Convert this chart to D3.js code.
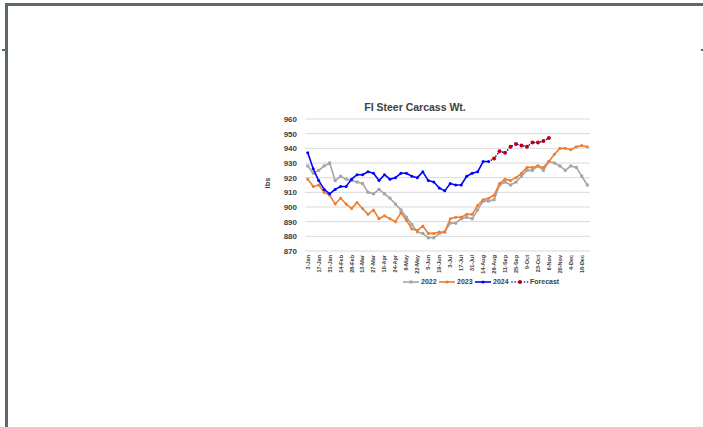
<!DOCTYPE html>
<html><head><meta charset="utf-8">
<script src="https://cdn.jsdelivr.net/npm/d3@7/dist/d3.min.js"></script>
<style>
body{margin:0;background:#fff;overflow:hidden}
svg{display:block}
text{font-family:"Liberation Sans",Arial,sans-serif;fill:#404040;font-weight:bold}
</style>
</head><body>
<svg id="c" width="703" height="427"></svg>
<script>
const tickLabels = ["3-Jan","17-Jan","31-Jan","14-Feb","28-Feb","13-Mar","27-Mar","10-Apr","24-Apr","8-May","22-May","5-Jun","19-Jun","3-Jul","17-Jul","31-Jul","14-Aug","28-Aug","11-Sep","25-Sep","9-Oct","23-Oct","6-Nov","20-Nov","4-Dec","18-Dec"];
const weeks = d3.range(52);
const s2022 = [928,923,925,928,930,918,921,919,918,917,916,910,909,912,909,906,902,898,893,888,883,882,879,879,882,883,889,889,892,893,892,898,904,904,905,915,917,915,917,921,925,925,928,925,931,930,928,925,928,927,921,915];
const s2023 = [919,914,915,910,908,902,906,902,899,903,899,895,898,892,894,892,890,896,891,885,884,887,882,882,883,883,892,893,893,895,895,901,905,906,908,916,919,918,920,923,927,927,928,927,931,936,940,940,939,941,942,941];
const s2024 = [937,926,918,912,909,912,914,914,919,922,922,924,923,918,922,919,920,923,923,921,920,924,918,917,913,911,916,915,915,921,923,924,931,931];
const forecastStart = 34;
const forecast = [933,938,937,941,943,942,941,944,944,945,947];
const yTicks = [870,880,890,900,910,920,930,940,950,960];
const seriesNames = ["2022","2023","2024","Forecast"];

const svg = d3.select("#c");
// page frame
svg.append("rect").attr("x",5).attr("y",3).attr("width",700).attr("height",3).attr("fill","#5c6870");
svg.append("rect").attr("x",5).attr("y",3).attr("width",3).attr("height",430).attr("fill","#5c6870");
svg.append("rect").attr("x",2).attr("y",49).attr("width",3).attr("height",2).attr("fill","#5c6870");
svg.append("rect").attr("x",701).attr("y",49).attr("width",2).attr("height",2).attr("fill","#5c6870");

const x = d3.scaleBand().domain(weeks).range([305,590]);
const cx = i => x(i) + x.bandwidth()/2;
const y = d3.scaleLinear().domain([870,960]).range([251,119]);

// gridlines
svg.append("g").selectAll("line").data(yTicks).join("line")
  .attr("x1",305).attr("x2",590).attr("y1",d=>y(d)).attr("y2",d=>y(d))
  .attr("stroke","#d9d9d9").attr("stroke-width",1);

// y axis labels
const yAxis = d3.axisLeft(y).tickValues(yTicks).tickSize(0).tickPadding(0);
const gy = svg.append("g").attr("transform","translate(297,0)").call(yAxis);
gy.select(".domain").remove();
gy.selectAll("text").style("font-size","8px").attr("fill","#404040").attr("font-family","Liberation Sans, Arial").attr("font-weight","bold");

// x axis labels
const xAxis = d3.axisBottom(x).tickValues(weeks.filter(i=>i%2===0)).tickFormat(i=>tickLabels[i/2]).tickSize(0);
const gx = svg.append("g").attr("transform","translate(0,254)").call(xAxis);
gx.select(".domain").remove();
gx.selectAll("text").style("font-size","5.5px").attr("fill","#404040").attr("font-family","Liberation Sans, Arial").attr("font-weight","bold")
  .attr("transform","rotate(-90)").attr("text-anchor","end").attr("x",-1).attr("y",0).attr("dy","0.35em");

// title
svg.append("text").attr("x",415).attr("y",110.5).attr("text-anchor","middle")
  .style("font-size","10.5px").attr("fill","#000").text("FI Steer Carcass Wt.");
// y label
svg.append("text").attr("transform","translate(270,183) rotate(-90)").attr("text-anchor","middle")
  .style("font-size","7.5px").text("lbs");

const line = d3.line().x(d=>cx(d[0])).y(d=>y(d[1]));
function drawSeries(vals, offset, color, marker){
  const pts = vals.map((v,i)=>[i+offset,v]);
  svg.append("path").datum(pts).attr("d",line).attr("fill","none").attr("stroke",color).attr("stroke-width",1.6).attr("stroke-linejoin","round");
  const g = svg.append("g");
  if(marker==="square"){
    g.selectAll("rect").data(pts).join("rect").attr("x",d=>cx(d[0])-1.5).attr("y",d=>y(d[1])-1.5).attr("width",3).attr("height",3).attr("fill",color);
  } else {
    g.selectAll("circle").data(pts).join("circle").attr("cx",d=>cx(d[0])).attr("cy",d=>y(d[1])).attr("r",1.5).attr("fill",color);
  }
}
drawSeries(s2022,0,"#a5a5a5","square");
drawSeries(s2023,0,"#ed7d31","circle");
drawSeries(s2024,0,"#0000ff","circle");

// forecast: dotted blue, red markers
const fpts = [[s2024.length-1, s2024[s2024.length-1]]].concat(forecast.map((v,i)=>[i+forecastStart,v]));
svg.append("path").datum(fpts).attr("d",line).attr("fill","none").attr("stroke","#0000ff").attr("stroke-width",1.6)
  .attr("stroke-dasharray","0.1,3").attr("stroke-linecap","round");
svg.append("g").selectAll("circle").data(fpts.slice(1)).join("circle")
  .attr("cx",d=>cx(d[0])).attr("cy",d=>y(d[1])).attr("r",2).attr("fill","#c00000");

// legend
const lg = svg.append("g").attr("transform","translate(0,282)");
const items = [
  {name:seriesNames[0], x0:403, color:"#a5a5a5", type:"square"},
  {name:seriesNames[1], x0:439, color:"#ed7d31", type:"circle"},
  {name:seriesNames[2], x0:475, color:"#0000ff", type:"circle"},
  {name:seriesNames[3], x0:512, color:"#0000ff", type:"forecast"}
];
items.forEach(it=>{
  const l = lg.append("line").attr("x1",it.x0).attr("x2",it.x0+16).attr("y1",0).attr("y2",0)
    .attr("stroke",it.color).attr("stroke-width",1.6);
  if(it.type==="forecast") l.attr("stroke-dasharray","0.1,3").attr("stroke-linecap","round");
  if(it.type==="square") lg.append("rect").attr("x",it.x0+6.5).attr("y",-1.5).attr("width",3).attr("height",3).attr("fill",it.color);
  else if(it.type==="circle") lg.append("circle").attr("cx",it.x0+8).attr("cy",0).attr("r",1.6).attr("fill",it.color);
  else lg.append("circle").attr("cx",it.x0+8).attr("cy",0).attr("r",2).attr("fill","#c00000");
  lg.append("text").attr("x",it.x0+18).attr("y",0).attr("dy","0.35em").style("font-size","7px").text(it.name);
});
</script>
</body></html>
